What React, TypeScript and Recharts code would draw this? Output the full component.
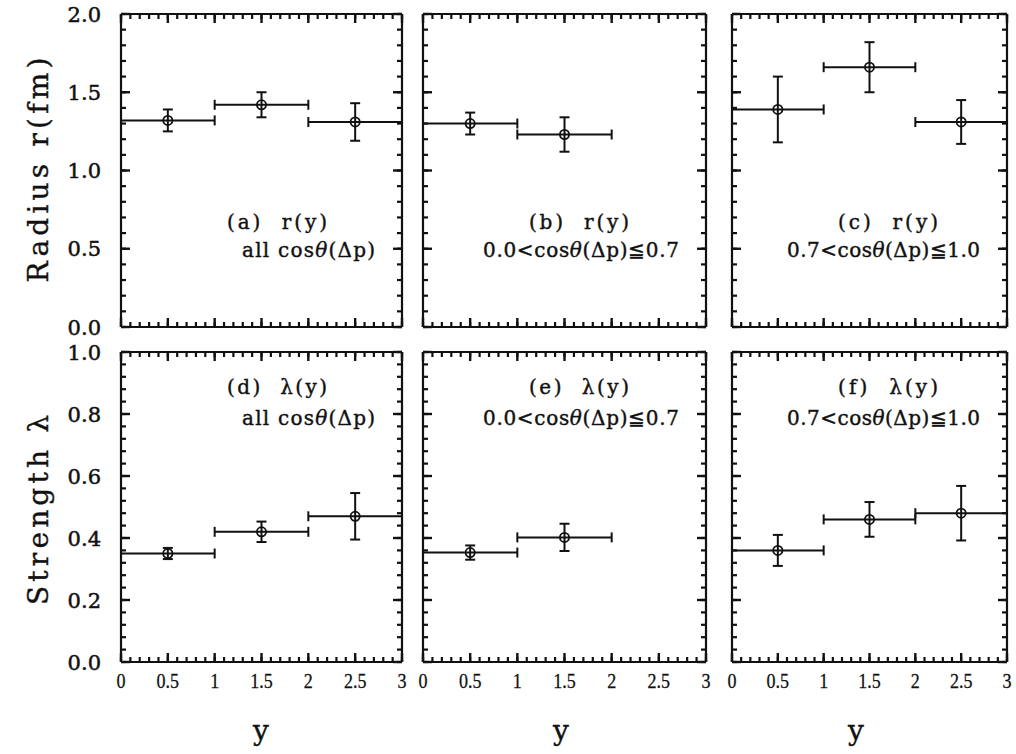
import React from "react";
import { ScatterChart, Scatter, XAxis, YAxis, ErrorBar } from "recharts";

// Source radius r(y) and strength λ(y) in three bins of y,
// read off the scanned figure (value ± error, bins are ±0.5 wide).
const binCenters = [0.5, 1.5, 2.5];
const binHalfWidth = [0.5, 0.5, 0.5];

const radiusAll = [1.32, 1.42, 1.31];
const radiusAllErr = [0.07, 0.08, 0.12];
const radiusMid = [1.3, 1.23];
const radiusMidErr = [0.07, 0.11];
const radiusFwd = [1.39, 1.66, 1.31];
const radiusFwdErr = [0.21, 0.16, 0.14];

const lambdaAll = [0.35, 0.42, 0.47];
const lambdaAllErr = [0.018, 0.033, 0.075];
const lambdaMid = [0.353, 0.402];
const lambdaMidErr = [0.023, 0.044];
const lambdaFwd = [0.36, 0.46, 0.48];
const lambdaFwdErr = [0.05, 0.056, 0.088];

const xMajor = [0, 0.5, 1, 1.5, 2, 2.5, 3];
const radiusMajor = [0, 0.5, 1, 1.5, 2];
const lambdaMajor = [0, 0.2, 0.4, 0.6, 0.8, 1];

const cutLabels = ["all ", "0.0<", "0.7<"];
const cutUpper = ["", "≦0.7", "≦1.0"];
const panelLetters = [
  ["a", "b", "c"],
  ["d", "e", "f"],
];

// 4 minor ticks between each pair of majors
function withMinor(major: number[]) {
  const out: number[] = [];
  for (let i = 0; i < major.length - 1; i++) {
    const step = (major[i + 1] - major[i]) / 5;
    for (let k = 0; k < 5; k++) out.push(+(major[i] + k * step).toFixed(4));
  }
  out.push(major[major.length - 1]);
  return out;
}

const W = 1016;
const H = 754;
const INK = "#111";
const MINOR = 5;
const MAJOR = 9;
const cols = [
  { x: 121, w: 281 },
  { x: 423, w: 283 },
  { x: 732, w: 275 },
];
const rows = [
  { y: 14, h: 313 },
  { y: 352, h: 310 },
];

// native tickLine draws the short inward tick; this adds the longer
// stub for major ticks and the labels (x/y arrive at the axis edge)
function AxisTick(props: any) {
  const { x, y, payload, side, majors, show, fmt } = props;
  const v = payload.value;
  const major = majors.some((m: number) => Math.abs(m - v) < 1e-6);
  let x2 = x;
  let y2 = y;
  if (side === "left") x2 = x + MAJOR;
  else if (side === "right") x2 = x - MAJOR;
  else if (side === "bottom") y2 = y - MAJOR;
  else y2 = y + MAJOR;
  return (
    <g>
      {major && <line x1={x} y1={y} x2={x2} y2={y2} stroke={INK} strokeWidth={2.4} />}
      {show && major && side === "left" && (
        <text
          x={x - 20}
          y={y}
          dy="0.36em"
          textAnchor="end"
          fontFamily="DejaVu Serif"
          fontSize={21}
          fill={INK}
          stroke={INK}
          strokeWidth={0.5}
        >
          {fmt(v)}
        </text>
      )}
      {show && major && side === "bottom" && (
        <text
          transform={`translate(${x},${y + 26}) scale(0.82,1)`}
          textAnchor="middle"
          fontFamily="Liberation Serif"
          fontSize={22}
          fill={INK}
          stroke={INK}
          strokeWidth={0.3}
        >
          {fmt(v)}
        </text>
      )}
    </g>
  );
}

function Marker(props: any) {
  const { cx, cy } = props;
  return <circle cx={cx} cy={cy} r={4.6} fill="none" stroke={INK} strokeWidth={1.8} />;
}

function NoMarker() {
  return <g />;
}

function makeRows(vals: number[], errs: number[]) {
  return vals.map((v, i) => ({ x: binCenters[i], y: v, ex: binHalfWidth[i], ey: errs[i] }));
}

type PanelProps = {
  col: number;
  row: number;
  vals: number[];
  errs: number[];
  yMajor: number[];
  showY: boolean;
  showX: boolean;
};

function Panel({ col, row, vals, errs, yMajor, showY, showX }: PanelProps) {
  const c = cols[col];
  const r = rows[row];
  const margin = {
    left: c.x - 1,
    top: r.y - 1,
    right: W - (c.x + c.w) - 1,
    bottom: H - (r.y + r.h) - 1,
  };
  const yDomain = [yMajor[0], yMajor[yMajor.length - 1]];
  const yTicks = withMinor(yMajor);
  const xTicks = withMinor(xMajor);
  const data = makeRows(vals, errs);
  const common = {
    tickSize: -MINOR,
    tickMargin: MINOR,
    tickLine: { stroke: INK, strokeWidth: 2.2 },
    interval: 0 as const,
    allowDataOverflow: true,
    axisLine: { stroke: INK, strokeWidth: 2.2 },
  };
  const fmtY = (v: number) => v.toFixed(1);
  const fmtX = (v: number) => String(v);
  return (
    <div style={{ position: "absolute", left: 0, top: 0 }}>
      <ScatterChart width={W} height={H} margin={margin}>
        <XAxis
          xAxisId="b"
          orientation="bottom"
          type="number"
          dataKey="x"
          domain={[0, 3]}
          ticks={xTicks}
          height={1}
          {...common}
          tick={<AxisTick side="bottom" majors={xMajor} show={showX} fmt={fmtX} />}
        />
        <XAxis
          xAxisId="t"
          orientation="top"
          type="number"
          dataKey="x"
          domain={[0, 3]}
          ticks={xTicks}
          height={1}
          {...common}
          tick={<AxisTick side="top" majors={xMajor} show={false} fmt={fmtX} />}
        />
        <YAxis
          yAxisId="l"
          orientation="left"
          type="number"
          dataKey="y"
          domain={yDomain}
          ticks={yTicks}
          width={1}
          {...common}
          tick={<AxisTick side="left" majors={yMajor} show={showY} fmt={fmtY} />}
        />
        <YAxis
          yAxisId="r"
          orientation="right"
          type="number"
          dataKey="y"
          domain={yDomain}
          ticks={yTicks}
          width={1}
          {...common}
          tick={<AxisTick side="right" majors={yMajor} show={false} fmt={fmtY} />}
        />
        {/* invisible twin so the top/right frame axes get a scale */}
        <Scatter data={data} xAxisId="t" yAxisId="r" shape={NoMarker} isAnimationActive={false} />
        <Scatter data={data} xAxisId="b" yAxisId="l" shape={Marker} isAnimationActive={false}>
          <ErrorBar dataKey="ex" direction="x" width={5} stroke={INK} strokeWidth={2} isAnimationActive={false} />
          <ErrorBar dataKey="ey" direction="y" width={5} stroke={INK} strokeWidth={2} isAnimationActive={false} />
        </Scatter>
      </ScatterChart>
    </div>
  );
}

const textLen2 = [133, 196, 193];

function Annotation({ col, row }: { col: number; row: number }) {
  const c = cols[col];
  const y1 = row === 0 ? 229 : 394;
  const y2 = row === 0 ? 257 : 425;
  const fn = row === 0 ? "r" : "λ";
  return (
    <g fontFamily="DejaVu Serif" fontSize={20} fill={INK} stroke={INK} strokeWidth={0.4}>
      <text x={c.x + 156} y={y1} textAnchor="middle" textLength={100} lengthAdjust="spacing" style={{ whiteSpace: "pre" }}>
        {`(${panelLetters[row][col]})  ${fn}(y)`}
      </text>
      <text
        x={c.x + c.w - 27}
        y={y2}
        textAnchor="end"
        textLength={textLen2[col]}
        lengthAdjust="spacing"
        style={{ whiteSpace: "pre" }}
      >
        {`${cutLabels[col]}cos`}
        <tspan fontStyle="italic">θ</tspan>
        {`(Δp)${cutUpper[col]}`}
      </text>
    </g>
  );
}

export default function App() {
  return (
    <div style={{ position: "absolute", left: 0, top: 0, width: W, height: H, background: "#fff" }}>
      <Panel col={0} row={0} vals={radiusAll} errs={radiusAllErr} yMajor={radiusMajor} showY showX={false} />
      <Panel col={1} row={0} vals={radiusMid} errs={radiusMidErr} yMajor={radiusMajor} showY={false} showX={false} />
      <Panel col={2} row={0} vals={radiusFwd} errs={radiusFwdErr} yMajor={radiusMajor} showY={false} showX={false} />
      <Panel col={0} row={1} vals={lambdaAll} errs={lambdaAllErr} yMajor={lambdaMajor} showY showX />
      <Panel col={1} row={1} vals={lambdaMid} errs={lambdaMidErr} yMajor={lambdaMajor} showY={false} showX />
      <Panel col={2} row={1} vals={lambdaFwd} errs={lambdaFwdErr} yMajor={lambdaMajor} showY={false} showX />
      <svg width={W} height={H} style={{ position: "absolute", left: 0, top: 0, pointerEvents: "none" }}>
        {[0, 1].map((row) => [0, 1, 2].map((col) => <Annotation key={`${row}-${col}`} col={col} row={row} />))}
        <g fontFamily="DejaVu Serif" fontSize={28} fill={INK} stroke={INK} strokeWidth={0.4}>
          <text transform="translate(48,170) rotate(-90)" textAnchor="middle" textLength={225} lengthAdjust="spacing">
            Radius r(fm)
          </text>
          <text transform="translate(48,510) rotate(-90)" textAnchor="middle" textLength={190} lengthAdjust="spacing">
            Strength λ
          </text>
          {[261, 561, 856].map((x) => (
            <text key={x} x={x} y={740} textAnchor="middle">
              y
            </text>
          ))}
        </g>
      </svg>
    </div>
  );
}
